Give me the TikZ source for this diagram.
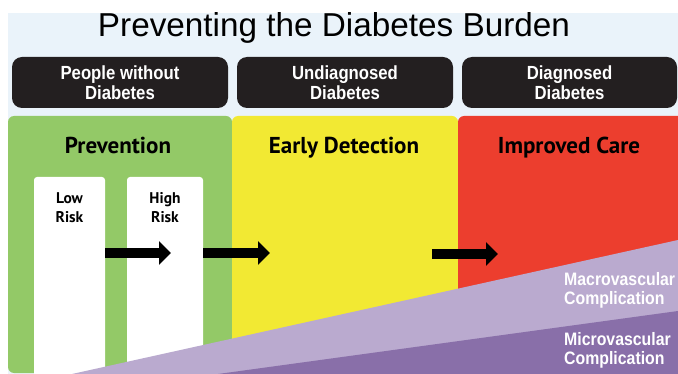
\documentclass[tikz,border=0pt]{standalone}
\usepackage{fontspec}
\setmainfont{Liberation Sans}
\newfontfamily\condfont[FakeStretch=0.88]{Liberation Sans}
\newfontfamily\panelfont{PT Sans}
\usetikzlibrary{arrows.meta,positioning}
\definecolor{bgblue}{HTML}{EAF3FA}
\definecolor{boxblack}{HTML}{231F20}
\definecolor{prevgreen}{HTML}{93C967}
\definecolor{detyellow}{HTML}{F2E933}
\definecolor{carered}{HTML}{EC3E2E}
\definecolor{macropurple}{HTML}{BAAACF}
\definecolor{micropurple}{HTML}{896FA9}
\tikzset{
  groupbox/.style={fill=boxblack, rounded corners=10pt, minimum height=51pt, inner sep=0pt,
    text=white, align=center, font=\condfont\bfseries\fontsize{19}{20}\selectfont},
  paneltitle/.style={anchor=base, inner sep=0pt, font=\panelfont\bfseries\fontsize{23}{24}\selectfont},
  riskbox/.style={fill=white, rounded corners=3pt, minimum height=203pt, inner sep=0pt},
  risktext/.style={anchor=north, inner sep=0pt, align=center, font=\panelfont\bfseries\fontsize{15.5}{19}\selectfont},
  bigarrow/.style={line width=10pt, -{Triangle[width=23pt,length=12pt]}},
  complabel/.style={anchor=west, inner sep=0pt, text=white, align=left,
    font=\condfont\bfseries\fontsize{18}{19}\selectfont}
}
\begin{document}
\begin{tikzpicture}[x=1pt,y=-1pt]
\useasboundingbox (0,0) rectangle (678,374);
\clip (0,0) rectangle (678,374);
\fill[bgblue] (8,13) rectangle (678,374);
\node[anchor=base, inner sep=0pt] (title) at (334,37) {\resizebox{472pt}{24pt}{Preventing the Diabetes Burden}};
\node[groupbox, minimum width=216pt] (nodiab) at (120,82.5) {People without\\Diabetes};
\node[groupbox, minimum width=216pt] (undiag) at (345,82.5) {Undiagnosed\\Diabetes};
\node[groupbox, minimum width=215pt] (diag) at (569.5,82.5) {Diagnosed\\Diabetes};
\fill[prevgreen, rounded corners=6pt] (8,116) rectangle (232,373);
\fill[detyellow, rounded corners=6pt] (232,116) rectangle (458,390);
\fill[carered, rounded corners=6pt] (458,116) rectangle (690,390);
\node[paneltitle] (prevention) at (118,154) {Prevention};
\node[paneltitle] (detection) at (344,154) {Early Detection};
\node[paneltitle] (care) at (569,154) {Improved Care};
\node[riskbox, minimum width=71pt] (low) at (69.5,278.5) {};
\node[riskbox, minimum width=76pt] (high) at (165,278.5) {};
\node[risktext] (lowtxt) at (69.5,192) {Low\\Risk};
\node[risktext] (hightxt) at (165,192) {High\\Risk};
\coordinate (tip1) at (171,253);
\coordinate (tip2) at (270,253);
\coordinate (tail3) at (432,254);
\coordinate (tip3) at (498,254);
\draw[bigarrow] (low.east |- tip1) -- (tip1);
\draw[bigarrow] (high.east |- tip2) -- (tip2);
\draw[bigarrow] (tail3) -- (tip3);
\fill[macropurple] (72,374) -- (678,240) -- (678,374) -- cycle;
\fill[micropurple] (218,374) -- (678,311) -- (678,374) -- cycle;
\node[complabel] (macro) at (564,290) {Macrovascular\\Complication};
\node[complabel] (micro) at (564,350.5) {Microvascular\\Complication};
\end{tikzpicture}
\end{document}
